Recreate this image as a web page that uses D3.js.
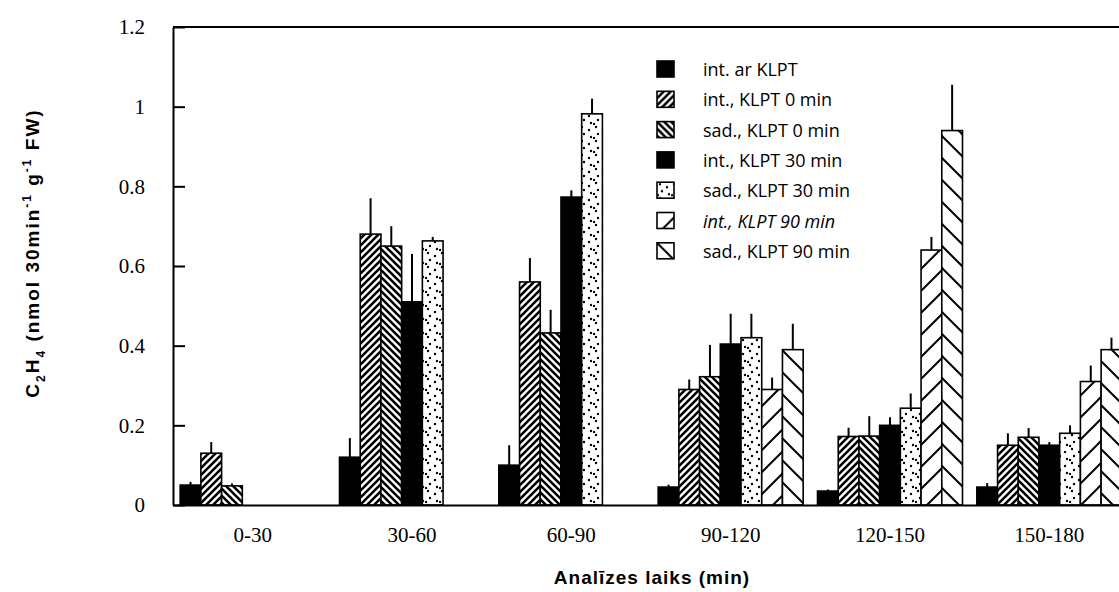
<!DOCTYPE html>
<html>
<meta charset="utf-8">
<head>
  <script src="https://d3js.org/d3.v7.min.js"></script>
  <style>
    body { margin: 0; background: #fff; }
    .tick text { font-family: "Liberation Serif", serif; font-size: 21px; fill: #000; }
    .legend text { font-family: "Open Sans", sans-serif; font-size: 18px; }
    .title { font-family: "Liberation Sans", Arial, sans-serif; font-weight: bold; }
  </style>
</head>
<body>
<script>

// data
var groups = ["0-30", "30-60", "60-90", "90-120", "120-150", "150-180"];
var seriesNames = ["int. ar KLPT", "int., KLPT 0 min", "sad., KLPT 0 min",
                   "int., KLPT 30 min", "sad., KLPT 30 min",
                   "int., KLPT 90 min", "sad., KLPT 90 min"];

var intAr      = [0.05, 0.12, 0.10, 0.045, 0.035, 0.045];
var intArErr   = [0.008, 0.048, 0.05, 0.006, 0.004, 0.01];
var int0       = [0.13, 0.68, 0.56, 0.29, 0.172, 0.15];
var int0Err    = [0.028, 0.09, 0.06, 0.025, 0.022, 0.03];
var sad0       = [0.048, 0.65, 0.432, 0.322, 0.173, 0.17];
var sad0Err    = [0.006, 0.05, 0.058, 0.08, 0.05, 0.023];
var int30      = [0, 0.51, 0.773, 0.404, 0.2, 0.15];
var int30Err   = [0, 0.12, 0.017, 0.076, 0.02, 0.008];
var sad30      = [0, 0.663, 0.982, 0.42, 0.243, 0.18];
var sad30Err   = [0, 0.01, 0.038, 0.06, 0.037, 0.02];
var int90      = [0, 0, 0, 0.29, 0.64, 0.31];
var int90Err   = [0, 0, 0, 0.03, 0.033, 0.04];
var sad90      = [0, 0, 0, 0.39, 0.94, 0.39];
var sad90Err   = [0, 0, 0, 0.065, 0.115, 0.03];

var yTicks = [0, 0.2, 0.4, 0.6, 0.8, 1, 1.2];

var values = [intAr, int0, sad0, int30, sad30, int90, sad90];
var errors = [intArErr, int0Err, sad0Err, int30Err, sad30Err, int90Err, sad90Err];
var fills  = ["#000", "url(#hatchR)", "url(#hatchL)", "#000", "url(#dots)",
              "url(#wideR)", "url(#wideL)"];

var W = 1119, H = 592;
var marginLeft = 173, marginTop = 27, plotH = 478, plotW = 956;

var svg = d3.select("body").append("svg")
    .attr("width", W)
    .attr("height", H);

// fill patterns
var defs = svg.append("defs");

function hatch(id, s, dir, sw) {
  var p = defs.append("pattern")
      .attr("id", id)
      .attr("patternUnits", "userSpaceOnUse")
      .attr("width", s)
      .attr("height", s);
  p.append("rect").attr("width", s).attr("height", s).attr("fill", "#fff");
  var d;
  if (dir > 0) {
    d = "M" + (-s/4) + "," + (s/4) + " L" + (s/4) + "," + (-s/4) +
        " M0," + s + " L" + s + ",0" +
        " M" + (3*s/4) + "," + (5*s/4) + " L" + (5*s/4) + "," + (3*s/4);
  } else {
    d = "M" + (-s/4) + "," + (3*s/4) + " L" + (s/4) + "," + (5*s/4) +
        " M0,0 L" + s + "," + s +
        " M" + (3*s/4) + "," + (-s/4) + " L" + (5*s/4) + "," + (s/4);
  }
  p.append("path").attr("d", d).attr("stroke", "#000").attr("stroke-width", sw);
}
hatch("hatchR", 7, 1, 2.6);
hatch("hatchL", 7, -1, 2.6);
hatch("wideR", 22, 1, 2);
hatch("wideL", 22, -1, 2);

var dp = defs.append("pattern")
    .attr("id", "dots")
    .attr("patternUnits", "userSpaceOnUse")
    .attr("width", 14)
    .attr("height", 14);
dp.append("rect").attr("width", 14).attr("height", 14).attr("fill", "#fff");
[[3, 2], [10, 5], [5, 9], [12, 12], [1, 13]].forEach(function(c) {
  dp.append("circle").attr("cx", c[0]).attr("cy", c[1]).attr("r", 1.2).attr("fill", "#000");
});

var g = svg.append("g").attr("transform", "translate(" + marginLeft + "," + marginTop + ")");

var x0 = d3.scaleBand().domain(groups).range([0, plotW])
    .paddingInner(0.09).paddingOuter(0.045);
var x1 = d3.scaleBand().domain(d3.range(seriesNames.length)).range([0, x0.bandwidth()]);
var y = d3.scaleLinear().domain([0, 1.2]).range([plotH, 0]);

// bars
var bars = [];
values.forEach(function(vals, i) {
  vals.forEach(function(v, j) {
    if (v > 0) bars.push({s: i, grp: groups[j], v: v, e: errors[i][j]});
  });
});

g.append("g").selectAll("rect")
  .data(bars)
  .enter()
  .append("rect")
  .attr("x", function(d) { return x0(d.grp) + x1(d.s); })
  .attr("y", function(d) { return y(d.v); })
  .attr("width", x1.bandwidth())
  .attr("height", function(d) { return plotH - y(d.v); })
  .attr("fill", function(d) { return fills[d.s]; })
  .attr("stroke", "#000")
  .attr("stroke-width", 1.6);

g.append("g").selectAll("line")
  .data(bars.filter(function(d) { return d.e > 0; }))
  .enter()
  .append("line")
  .attr("x1", function(d) { return x0(d.grp) + x1(d.s) + x1.bandwidth() / 2; })
  .attr("x2", function(d) { return x0(d.grp) + x1(d.s) + x1.bandwidth() / 2; })
  .attr("y1", function(d) { return y(d.v); })
  .attr("y2", function(d) { return y(d.v + d.e); })
  .attr("stroke", "#000")
  .attr("stroke-width", 2);

// axes
var yAxis = g.append("g")
  .call(d3.axisLeft(y).tickValues(yTicks).tickFormat(d3.format("~g"))
        .tickSizeInner(-12).tickSizeOuter(0).tickPadding(28));
yAxis.selectAll("path, line").attr("stroke", "#000").attr("stroke-width", 2);

var xAxis = g.append("g")
  .attr("transform", "translate(0," + plotH + ")")
  .call(d3.axisBottom(x0).tickSize(0).tickPadding(22));
xAxis.select(".domain").attr("stroke", "#000").attr("stroke-width", 2);

// top frame line
g.append("line")
  .attr("x1", 0).attr("x2", plotW)
  .attr("y1", 0).attr("y2", 0)
  .attr("stroke", "#000").attr("stroke-width", 2);

// legend
var legend = svg.append("g")
  .attr("class", "legend")
  .attr("transform", "translate(657,61)");

var rows = legend.selectAll("g")
  .data(seriesNames)
  .enter()
  .append("g")
  .attr("transform", function(d, i) { return "translate(0," + (i * 30.3) + ")"; });

rows.append("rect")
  .attr("width", 17)
  .attr("height", 16)
  .attr("fill", function(d, i) { return fills[i]; })
  .attr("stroke", "#000")
  .attr("stroke-width", 1.6);

rows.append("text")
  .attr("x", 46)
  .attr("y", 8)
  .attr("dominant-baseline", "central")
  .style("font-style", function(d, i) { return i == 5 ? "italic" : "normal"; })
  .text(function(d) { return d; });

// axis titles
svg.append("text")
  .attr("class", "title")
  .attr("x", 652)
  .attr("y", 584)
  .attr("text-anchor", "middle")
  .style("font-size", "19px")
  .style("letter-spacing", "1px")
  .text("Analīzes laiks (min)");

var yt = svg.append("text")
  .attr("class", "title")
  .attr("transform", "translate(39,253) rotate(-90)")
  .attr("text-anchor", "middle")
  .style("font-size", "19px")
  .style("letter-spacing", "2px");

yt.append("tspan").text("C");
yt.append("tspan").attr("dy", 6).style("font-size", "12px").text("2");
yt.append("tspan").attr("dy", -6).text("H");
yt.append("tspan").attr("dy", 6).style("font-size", "12px").text("4");
yt.append("tspan").attr("dy", -6).text(" (nmol 30min");
yt.append("tspan").attr("dy", -8).style("font-size", "12px").text("-1");
yt.append("tspan").attr("dy", 8).text(" g");
yt.append("tspan").attr("dy", -8).style("font-size", "12px").text("-1");
yt.append("tspan").attr("dy", 8).text(" FW)");

</script>
</body>
</html>
